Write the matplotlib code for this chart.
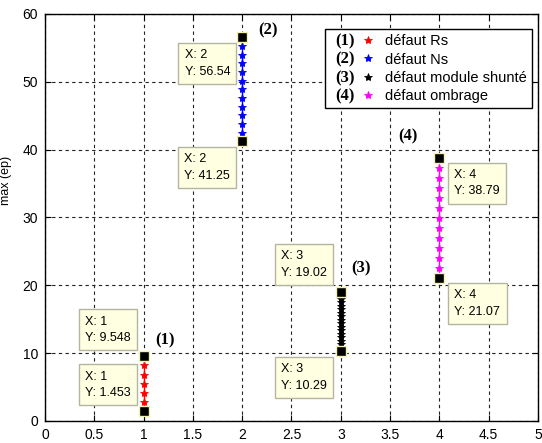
import matplotlib
matplotlib.use('Agg')
import matplotlib.pyplot as plt
from matplotlib.lines import Line2D
from matplotlib.patches import Rectangle

# one vertical series per defect type (x = defect index)
x_pos = [1, 2, 3, 4]
rs_vals = [1.453, 2.80, 4.15, 5.50, 6.85, 8.20, 9.548]
ns_vals = [41.25, 42.52, 43.80, 45.07, 46.35, 47.62, 48.90, 50.17, 51.44,
           52.72, 53.99, 55.27, 56.54]
shunt_vals = [10.29, 10.80, 11.32, 11.83, 12.34, 12.86, 13.37, 13.88, 14.40,
              14.91, 15.42, 15.94, 16.45, 16.96, 17.48, 17.99, 18.50, 19.02]
ombrage_vals = [21.07, 22.55, 24.02, 25.50, 26.98, 28.45, 29.93, 31.41, 32.88,
                34.36, 35.84, 37.31, 38.79]
all_vals = [rs_vals, ns_vals, shunt_vals, ombrage_vals]

series_labels = ['défaut Rs', 'défaut Ns', 'défaut module shunté', 'défaut ombrage']
series_tags = ['(1)', '(2)', '(3)', '(4)']
series_colors = ['red', 'blue', 'black', 'magenta']

x_ticks = [0, 0.5, 1, 1.5, 2, 2.5, 3, 3.5, 4, 4.5, 5]
x_ticklabels = ['0', '0.5', '1', '1.5', '2', '2.5', '3', '3.5', '4', '4.5', '5']
y_ticks = [0, 10, 20, 30, 40, 50, 60]

# datatip corner placement (top tip, bottom tip): corner offset in px from the point
tip_corners = [
    [(-7, 6, 'right', 'bottom'), (-7, 6, 'right', 'bottom')],
    [(-6, -6, 'right', 'top'), (-6, -6, 'right', 'top')],
    [(-8, 7, 'right', 'bottom'), (-8, -6, 'right', 'top')],
    [(9, -5, 'left', 'top'), (9, -5, 'left', 'top')],
]
tag_offsets = [(21, 16), (26, 7), (20, 24), (-31, 21)]

plt.rcParams['font.family'] = ['Liberation Sans', 'DejaVu Sans']

fig = plt.figure(figsize=(5.42, 4.43), dpi=100)
ax = fig.add_axes([0.083, 0.0497, 0.9096, 0.9187])

mk = '*'
for x, vals, col in zip(x_pos, all_vals, series_colors):
    ax.plot([x] * len(vals), vals, '-', color=col, lw=1, marker=mk, ms=6,
            mew=0.6, zorder=3)

pad_px = 6
for x, vals, corners in zip(x_pos, all_vals, tip_corners):
    ax.plot([x, x], [vals[-1], vals[0]], 's', color='black', ms=6.5,
            mec='#f4f0b0', mew=1, zorder=4)
    for v, (dx, dy, ha, va) in zip([vals[-1], vals[0]], corners):
        tx = dx - pad_px if ha == 'right' else dx + pad_px
        ty = dy + pad_px if va == 'bottom' else dy - pad_px
        ax.annotate(f"X: {x}\nY: {v:.4g}", xy=(x, v), xytext=(tx, ty),
                    textcoords='offset pixels', ha=ha, va=va, fontsize=9,
                    multialignment='left', linespacing=1.5,
                    bbox=dict(boxstyle='square,pad=0.5', fc='#ffffe1',
                              ec='#b4b4a0', lw=1), zorder=6)

for x, vals, tag, (dx, dy) in zip(x_pos, all_vals, series_tags, tag_offsets):
    ax.annotate(tag, xy=(x, vals[-1]), xytext=(dx, dy),
                textcoords='offset pixels', ha='center', va='center',
                fontfamily='Liberation Serif', fontweight='bold', fontsize=12)

ax.set_xlim(0, 5)
ax.set_ylim(0, 60)
ax.set_xticks(x_ticks)
ax.set_xticklabels(x_ticklabels)
ax.set_yticks(y_ticks)
ax.tick_params(direction='in', length=4, top=True, right=True,
               labelsize=10, width=0.8, pad=5)
for s in ax.spines.values():
    s.set_linewidth(1)
ax.grid(True, color='#222222', linestyle=(0, (3, 3)), lw=0.8)
ax.set_axisbelow(True)
ax.set_ylabel('max (ep)', fontsize=9)
ax.yaxis.set_label_coords(-0.067, 0.59)

proxies = [Line2D([], [], ls='none', marker=mk, color=c, ms=6, mew=0.6)
           for c in series_colors]
leg = ax.legend(proxies, series_labels, loc='upper right',
                bbox_to_anchor=(0.988, 0.963), borderaxespad=0,
                frameon=False, fontsize=10.5, handlelength=1.0,
                handletextpad=0.66, labelspacing=0.3, borderpad=0.35)
leg.set_zorder(7)

# frame + tags for the legend, MATLAB style "(n) marker label"
fig.canvas.draw()
r = fig.canvas.get_renderer()
bb = leg.get_window_extent(r)
texts = leg.get_texts()
left = texts[0].get_window_extent(r).x0 - 60
inv = ax.transAxes.inverted()
x0, y0 = inv.transform((left, bb.y0))
x1, y1 = inv.transform((bb.x1, bb.y1))
ax.add_patch(Rectangle((x0, y0), x1 - x0, y1 - y0, transform=ax.transAxes,
                       fc='white', ec='black', lw=1, zorder=6.5, clip_on=False))
for t, tag in zip(texts, series_tags):
    tb = t.get_window_extent(r)
    px, py = inv.transform((left + 10, (tb.y0 + tb.y1) / 2))
    ax.text(px, py, tag, transform=ax.transAxes, ha='left', va='center',
            fontfamily='Liberation Serif', fontweight='bold', fontsize=12,
            zorder=8)

fig.savefig('out.png', dpi=100)
